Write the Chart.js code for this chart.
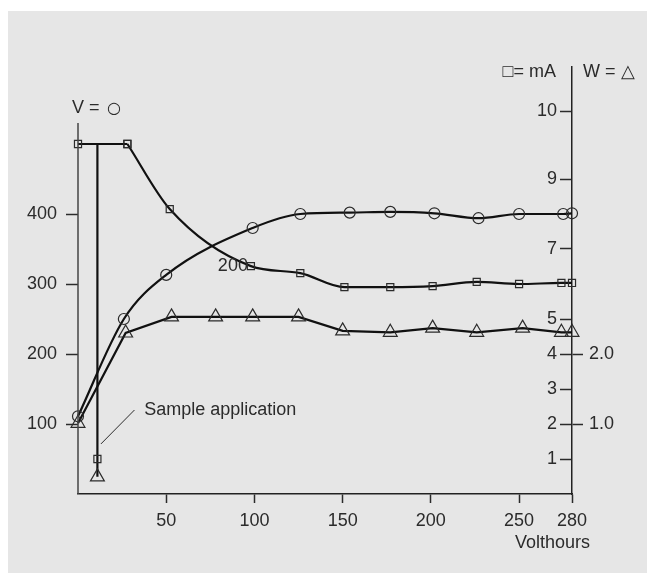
<!DOCTYPE html>
<html>
<head>
<meta charset="utf-8">
<script src="https://cdn.jsdelivr.net/npm/chart.js@4.4.0/dist/chart.umd.min.js"></script>
<style>
  html, body { margin: 0; padding: 0; background: #fff; }
  #wrap { position: relative; width: 647px; height: 573px; }
  #panel { position: absolute; left: 8px; top: 11px; right: 0; bottom: 0; background: #e6e6e6; }
  canvas { position: absolute; left: 0; top: 0; }
</style>
</head>
<body>
<div id="wrap"><div id="panel"></div><canvas id="myChart" width="647" height="573"></canvas></div>
<script>
// Values
const voltX = [0, 26, 50, 99, 126, 154, 177, 202, 227, 250, 275, 280];
const voltY = [111, 250, 313, 380, 400, 402, 403, 401, 394, 400, 400, 401];

const ampX = [0, 28, 52, 98, 126, 151, 177, 201, 226, 250, 274, 280];
const ampY = [10.0, 10.0, 8.14, 6.51, 6.31, 5.91, 5.91, 5.94, 6.06, 6.0, 6.03, 6.03];

const wattX = [0, 27, 53, 78, 99, 125, 150, 177, 201, 226, 252, 274, 280];
const wattY = [1.01, 2.30, 2.53, 2.53, 2.53, 2.53, 2.33, 2.31, 2.37, 2.31, 2.37, 2.31, 2.31];

// sample application (vertical drop, on the mA scale)
const sampleX = [11, 11, 11];
const sampleY = [10.0, 1.0, 0.49];

// Ticks
const xTicks = [50, 100, 150, 200, 250, 280];
const voltTicks = [100, 200, 300, 400];
const ampTicks = [1, 2, 3, 4, 5, 7, 9, 10.94];
const ampTickLabels = ['1', '2', '3', '4', '5', '7', '9', '10'];
const wattTicks = [1, 2];
const wattTickLabels = ['1.0', '2.0'];

const FONT = {family: '"Liberation Sans", Arial, sans-serif', size: 18};
const INK = '#2b2b2b';

function pts(xs, ys) {
    return xs.map((x, i) => ({x: x, y: ys[i]}));
}

function setTicks(values) {
    return function (scale) {
        scale.ticks = values.map(v => ({value: v}));
    };
}

const marker = {
    borderColor: '#111',
    borderWidth: 2.2,
    pointBorderColor: INK,
    pointBorderWidth: 1.2,
    pointBackgroundColor: 'rgba(0,0,0,0)',
    clip: false
};

// Extra texts and the short left axis line
const extras = {
    id: 'extras',
    afterDraw(chart) {
        const {ctx, chartArea: a} = chart;
        const x = chart.scales.x, yV = chart.scales.yV, yA = chart.scales.yA;
        ctx.save();
        const top = yV.getPixelForValue(530);
        ctx.strokeStyle = '#444';
        ctx.lineWidth = 1.5;
        ctx.beginPath();
        ctx.moveTo(a.left, top);
        ctx.lineTo(a.left, a.bottom);
        ctx.stroke();

        ctx.strokeStyle = INK;
        ctx.lineWidth = 1;
        ctx.beginPath();
        ctx.moveTo(x.getPixelForValue(13), yA.getPixelForValue(1.43));
        ctx.lineTo(x.getPixelForValue(32), yA.getPixelForValue(2.4));
        ctx.stroke();

        ctx.fillStyle = INK;
        ctx.font = '18px "Liberation Sans", Arial, sans-serif';
        ctx.textBaseline = 'middle';
        ctx.textAlign = 'left';
        ctx.fillText('Sample application', x.getPixelForValue(37.5), yA.getPixelForValue(2.4));
        ctx.fillText('V = ', a.left - 6, top - 15);
        ctx.fillText('W = \u25B3', a.right + 11, a.top + 5);
        ctx.textAlign = 'right';
        ctx.fillText('\u25A1= mA', a.right - 16, a.top + 5);
        ctx.fillText('200', x.getPixelForValue(ampX[3]) - 3, yA.getPixelForValue(ampY[3]));
        ctx.fillText('Volthours', a.right + 18, a.bottom + 49);
        ctx.font = '16px "DejaVu Sans", sans-serif';
        ctx.textAlign = 'left';
        ctx.fillText('\u25CB', a.left + 29, top - 14);
        ctx.restore();
    }
};

const data = {
    datasets: [
        Object.assign({
            label: 'V',
            data: pts(voltX, voltY),
            yAxisID: 'yV',
            pointStyle: 'circle',
            pointRadius: 5.5,
            cubicInterpolationMode: 'monotone'
        }, marker),
        // flat start of the mA curve, drawn straight so the corner stays sharp
        Object.assign({
            label: 'mA start',
            data: pts(ampX.slice(0, 2), ampY.slice(0, 2)),
            yAxisID: 'yA',
            pointStyle: 'rect',
            pointRadius: 5
        }, marker),
        Object.assign({
            label: 'mA',
            data: pts(ampX.slice(1), ampY.slice(1)),
            yAxisID: 'yA',
            pointStyle: 'rect',
            pointRadius: 5,
            cubicInterpolationMode: 'monotone'
        }, marker),
        Object.assign({
            label: 'W',
            data: pts(wattX, wattY),
            yAxisID: 'yW',
            pointStyle: 'triangle',
            pointRadius: 8
        }, marker),
        Object.assign({
            label: 'Sample application',
            data: pts(sampleX, sampleY),
            yAxisID: 'yA',
            pointStyle: ['circle', 'rect', 'triangle'],
            pointRadius: [0, 5, 8]
        }, marker)
    ]
};

const config = {
    type: 'line',
    data,
    plugins: [extras],
    options: {
        responsive: false,
        animation: false,
        devicePixelRatio: 1,
        layout: {padding: {top: 67, left: 0, right: 0, bottom: 0}},
        plugins: {legend: {display: false}, tooltip: {enabled: false}},
        scales: {
            x: {
                type: 'linear',
                min: 0,
                max: 280,
                afterBuildTicks: setTicks(xTicks),
                afterFit(scale) { scale.height = 79; },
                grid: {drawOnChartArea: false, tickLength: 9, tickColor: INK, tickWidth: 1.5},
                border: {color: '#222', width: 1.5},
                ticks: {font: FONT, color: INK, padding: 7, maxRotation: 0}
            },
            yV: {
                type: 'linear',
                position: 'left',
                min: 0,
                max: 610,
                afterBuildTicks: setTicks(voltTicks),
                afterFit(scale) { scale.width = 78; },
                grid: {drawOnChartArea: false, tickLength: 12, tickColor: INK, tickWidth: 1.5},
                border: {display: false},
                ticks: {font: FONT, color: INK, padding: 9}
            },
            yW: {
                type: 'linear',
                position: 'right',
                min: 0,
                max: 6.1,
                afterBuildTicks: setTicks(wattTicks),
                afterFit(scale) { scale.width = 75; },
                grid: {drawOnChartArea: false, tickLength: 11, tickColor: INK, tickWidth: 1.5},
                border: {color: '#222', width: 1.5},
                ticks: {
                    font: FONT, color: INK, padding: 6,
                    callback: (v, i) => wattTickLabels[i]
                }
            },
            yA: {
                // sits on the right axis line, ticks and labels pointing inwards
                type: 'linear',
                position: {x: 280},
                min: 0,
                max: 12.2,
                afterBuildTicks: setTicks(ampTicks),
                grid: {drawOnChartArea: false, tickLength: 12, tickColor: INK, tickWidth: 1.5},
                border: {display: false},
                ticks: {
                    font: FONT, color: INK,
                    callback: (v, i) => ampTickLabels[i] + '   '
                }
            }
        }
    }
};

var myChart = new Chart(document.getElementById('myChart'), config);
</script>
</body>
</html>
